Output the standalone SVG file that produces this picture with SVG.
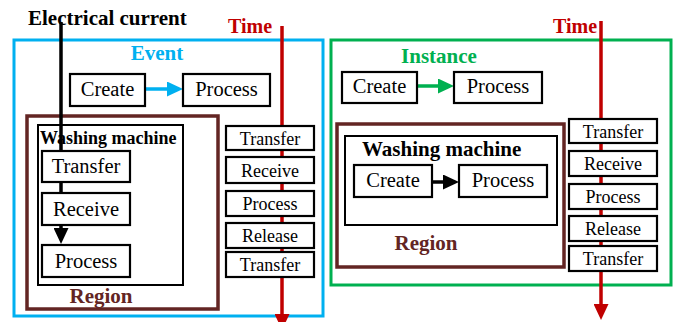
<svg xmlns="http://www.w3.org/2000/svg" width="677" height="322" viewBox="0 0 677 322">
<style>
text{font-family:"Liberation Serif","Times New Roman",serif;fill:#000}
.b{font-weight:bold}
.box{fill:#fff;stroke:#000;stroke-width:2.2}
.t20{font-size:20.5px;text-anchor:middle}
.t18{font-size:18px;text-anchor:middle}
.wm{fill:#fff;stroke:#000;stroke-width:2}
.reg{fill:none;stroke:#632523;stroke-width:3.5}
.regt{font-size:21px;font-weight:bold;fill:#632523;text-anchor:middle}
.red{fill:#C00000;font-size:20px;font-weight:bold}
</style>
<defs>
<marker id="ac" markerUnits="userSpaceOnUse" markerWidth="16" markerHeight="15" refX="8" refY="7.5" orient="auto"><path d="M0,0L16,7.5L0,15z" fill="#00B0F0"/></marker>
<marker id="ag" markerUnits="userSpaceOnUse" markerWidth="16" markerHeight="15" refX="8" refY="7.5" orient="auto"><path d="M0,0L16,7.5L0,15z" fill="#00B050"/></marker>
<marker id="ak" markerUnits="userSpaceOnUse" markerWidth="16" markerHeight="15" refX="8" refY="7.5" orient="auto"><path d="M0,0L16,7.5L0,15z" fill="#000"/></marker>
<marker id="ar" markerUnits="userSpaceOnUse" markerWidth="16" markerHeight="15" refX="8" refY="7.5" orient="auto"><path d="M0,0L16,7.5L0,15z" fill="#C00000"/></marker>
</defs>
<rect width="677" height="322" fill="#fff"/>

<g id="electrical-current"><text class="b" x="28" y="25" font-size="21">Electrical current</text></g>
<g id="time-left"><text class="red" x="228" y="33">Time</text></g>
<g id="time-right"><text class="red" x="553" y="33">Time</text></g>

<g id="event">
<rect x="14" y="40" width="309" height="276" fill="none" stroke="#00B0F0" stroke-width="3"/>
<text class="b" x="157" y="60" font-size="21" text-anchor="middle" style="fill:#00B0F0">Event</text>
</g>
<g id="region-left">
<rect class="reg" x="27" y="116" width="191" height="193"/>
<text class="regt" x="101" y="303">Region</text>
</g>
<g id="washing-machine-left">
<rect class="wm" x="38" y="125" width="145" height="160"/>
<text class="b" x="40" y="144" font-size="18">Washing machine</text>
</g>

<g id="instance">
<rect x="331" y="40" width="340" height="245" fill="none" stroke="#00B050" stroke-width="3"/>
<text class="b" x="439" y="63" font-size="21" text-anchor="middle" style="fill:#00B050">Instance</text>
</g>
<g id="region-right">
<rect class="reg" x="337" y="124" width="227" height="143"/>
<text class="regt" x="426" y="250">Region</text>
</g>
<g id="washing-machine-right">
<rect class="wm" x="345" y="136" width="212" height="89"/>
<text class="b" x="362" y="156" font-size="21">Washing machine</text>
</g>

<g id="connectors" fill="none">
<line x1="145" y1="89" x2="175" y2="89" stroke="#00B0F0" stroke-width="3.5" marker-end="url(#ac)"/>
<line x1="417" y1="86" x2="446" y2="86" stroke="#00B050" stroke-width="3.5" marker-end="url(#ag)"/>
<line x1="432" y1="182" x2="451" y2="182" stroke="#000" stroke-width="3.5" marker-end="url(#ak)"/>
<line x1="61" y1="22" x2="61" y2="236" stroke="#000" stroke-width="3.5" marker-end="url(#ak)"/>
<line x1="282" y1="26" x2="282" y2="322" stroke="#C00000" stroke-width="3.5" marker-end="url(#ar)"/>
<line x1="601" y1="21" x2="601" y2="312" stroke="#C00000" stroke-width="3.5" marker-end="url(#ar)"/>
</g>

<g id="ev-create"><rect class="box" x="70" y="74" width="75" height="32"/><text class="t20" x="107.5" y="96">Create</text></g>
<g id="ev-process"><rect class="box" x="183" y="74" width="87" height="32"/><text class="t20" x="226.5" y="96">Process</text></g>
<g id="wm-transfer"><rect class="box" x="42" y="151" width="88" height="31"/><text class="t20" x="86" y="172.5">Transfer</text></g>
<g id="wm-receive"><rect class="box" x="42" y="193" width="88" height="32"/><text class="t20" x="86" y="215.5">Receive</text></g>
<g id="wm-process"><rect class="box" x="42" y="245" width="88" height="32"/><text class="t20" x="86" y="267.5">Process</text></g>

<g id="tl-transfer1"><rect class="box" x="226" y="126" width="88" height="24"/><text class="t18" x="270" y="144.5">Transfer</text></g>
<g id="tl-receive"><rect class="box" x="226" y="157" width="88" height="26"/><text class="t18" x="270" y="176.5">Receive</text></g>
<g id="tl-process"><rect class="box" x="226" y="191" width="88" height="25"/><text class="t18" x="270" y="210">Process</text></g>
<g id="tl-release"><rect class="box" x="226" y="223" width="88" height="25"/><text class="t18" x="270" y="242">Release</text></g>
<g id="tl-transfer2"><rect class="box" x="226" y="252" width="88" height="25"/><text class="t18" x="270" y="271">Transfer</text></g>

<g id="in-create"><rect class="box" x="342" y="72" width="75" height="31"/><text class="t20" x="379.5" y="93">Create</text></g>
<g id="in-process"><rect class="box" x="454" y="72" width="88" height="31"/><text class="t20" x="498" y="93">Process</text></g>
<g id="wm2-create"><rect class="box" x="354" y="165" width="78" height="32"/><text class="t20" x="393" y="187">Create</text></g>
<g id="wm2-process"><rect class="box" x="459" y="165" width="88" height="32"/><text class="t20" x="503" y="187">Process</text></g>

<g id="tr-transfer1"><rect class="box" x="569" y="119" width="88" height="24"/><text class="t18" x="613" y="137.5">Transfer</text></g>
<g id="tr-receive"><rect class="box" x="569" y="151" width="88" height="25"/><text class="t18" x="613" y="170">Receive</text></g>
<g id="tr-process"><rect class="box" x="569" y="184" width="88" height="25"/><text class="t18" x="613" y="203">Process</text></g>
<g id="tr-release"><rect class="box" x="569" y="216" width="88" height="25"/><text class="t18" x="613" y="235">Release</text></g>
<g id="tr-transfer2"><rect class="box" x="569" y="246" width="88" height="25"/><text class="t18" x="613" y="265">Transfer</text></g>
</svg>
